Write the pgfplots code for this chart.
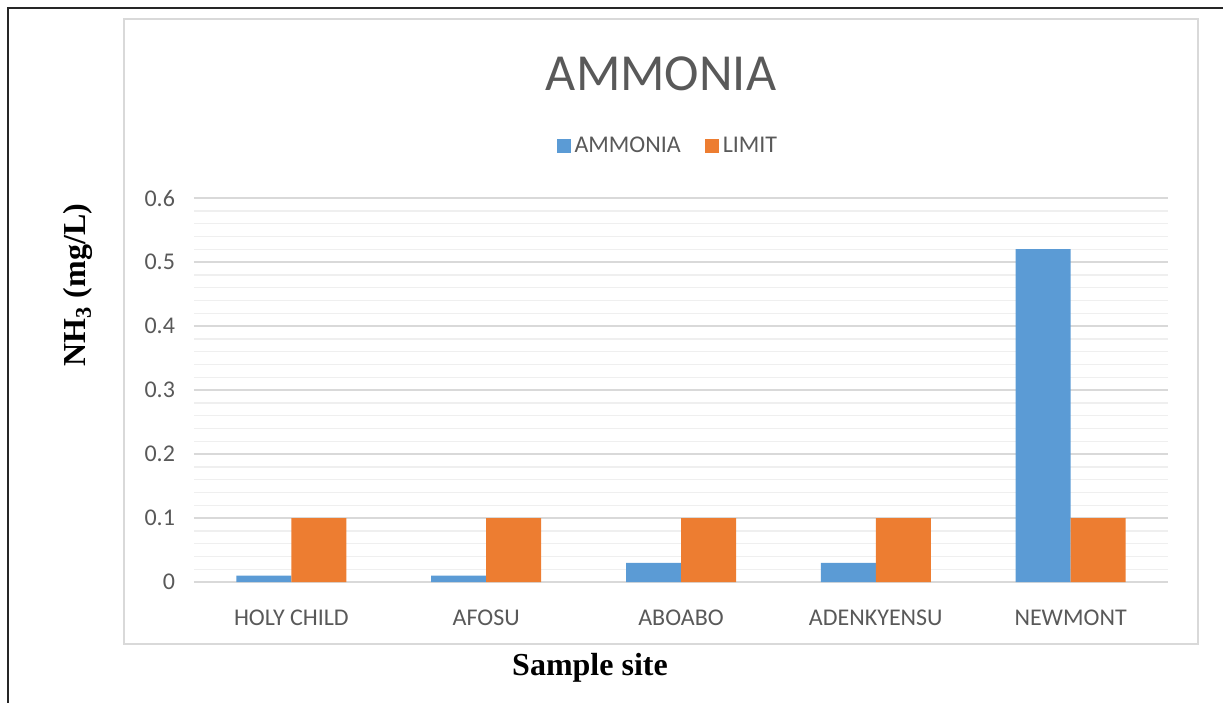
\documentclass[border=0pt]{standalone}
\usepackage{fontspec}
\setmainfont{Carlito}
\newfontfamily\tnr{Liberation Serif}
\usepackage{pgfplots}
\pgfplotsset{compat=1.18}
\definecolor{cblue}{HTML}{5B9BD5}
\definecolor{corange}{HTML}{ED7D31}
\definecolor{txt}{HTML}{595959}
\definecolor{majgrid}{HTML}{D9D9D9}
\definecolor{mingrid}{HTML}{EFEFEF}
\begin{document}
\begin{tikzpicture}
\useasboundingbox (0,0) rectangle (611.5pt,-351.5pt);
% outer frame lines
\draw[line width=1pt,black!85] (3.5pt,-4pt) -- (611.5pt,-4pt);
\draw[line width=1pt,black!85] (4pt,-4pt) -- (4pt,-351.5pt);
% chart area border
\draw[line width=0.8pt,majgrid] (62pt,-9.5pt) rectangle (599pt,-322pt);
\begin{axis}[
  at={(97pt,-291pt)}, anchor=south west,
  scale only axis, width=487pt, height=192pt,
  ybar=0pt, bar width=27.5pt,
  xmin=-0.5, xmax=4.5, ymin=0, ymax=0.6,
  xtick={0,1,2,3,4},
  xticklabels={HOLY CHILD,AFOSU,ABOABO,ADENKYENSU,NEWMONT},
  ytick={0,0.1,0.2,0.3,0.4,0.5,0.6},
  yticklabels={0,0.1,0.2,0.3,0.4,0.5,0.6},
  minor y tick num=4,
  ymajorgrids, yminorgrids,
  major grid style={majgrid,line width=0.7pt},
  minor grid style={mingrid,line width=0.7pt},
  axis line style={draw=none},
  tick style={draw=none},
  /pgf/number format/assume math mode=true,
  tick label style={font=\fontsize{12}{14}\selectfont,text=txt},
  yticklabel style={xshift=-6pt},
  xticklabel style={yshift=-6pt},
  legend style={at={(0.4875,1.135)}, anchor=center, draw=none, fill=none,
    font=\fontsize{12}{14}\selectfont, text=txt,
    legend columns=2,
    /tikz/every even column/.append style={column sep=10pt}},
  legend cell align=left,
  legend image code/.code={\fill[#1] (-1pt,-3.5pt) rectangle (6pt,3.5pt);},
  clip=false,
]
\addplot[fill=cblue, draw=none] coordinates {(0,0.01) (1,0.01) (2,0.03) (3,0.03) (4,0.52)};
\addplot[fill=corange, draw=none] coordinates {(0,0.1) (1,0.1) (2,0.1) (3,0.1) (4,0.1)};
\legend{AMMONIA,LIMIT}
\end{axis}
\node[text=txt, font=\fontsize{26}{30}\selectfont] at (330.5pt,-37pt) {AMMONIA};
\node[font=\tnr\bfseries\fontsize{16}{19}\selectfont] at (295pt,-334pt) {Sample site};
\node[font=\tnr\bfseries\fontsize{16}{19}\selectfont, rotate=90] at (39pt,-142.5pt) {NH\textsubscript{3} (mg/L)};
\end{tikzpicture}
\end{document}
